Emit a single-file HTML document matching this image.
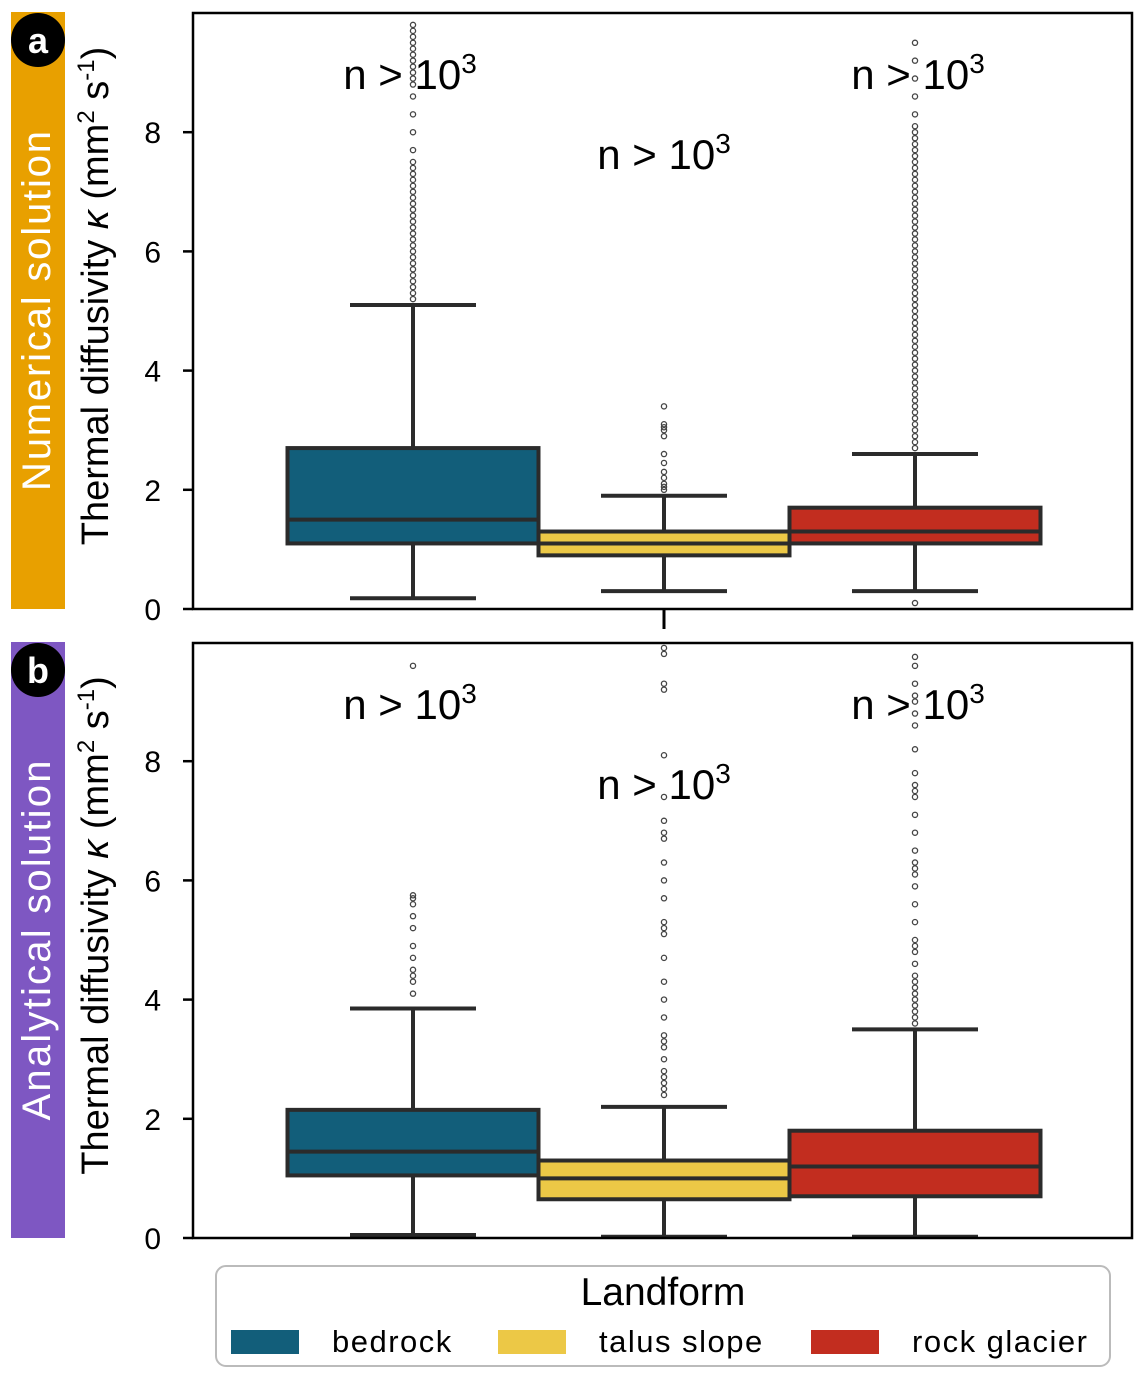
<!DOCTYPE html>
<html><head><meta charset="utf-8">
<style>
body{margin:0;background:#fff;width:1144px;height:1380px;overflow:hidden;font-family:"Liberation Sans","DejaVu Sans",sans-serif}
svg{display:block}
</style></head>
<body>
<svg id="chart" width="1144" height="1380" xmlns="http://www.w3.org/2000/svg"></svg>
<script>
const categories=["bedrock","talus slope","rock glacier"];
const colors=["#125e7a","#ecc846","#c22d1f"];
const yTicks=[0,2,4,6,8];
// panel a (numerical)
const aLow=[0.18,0.3,0.3];
const aQ1=[1.1,0.9,1.1];
const aMed=[1.5,1.1,1.3];
const aQ3=[2.7,1.3,1.7];
const aHigh=[5.1,1.9,2.6];
const aOut=[[5.2,5.3,5.4,5.5,5.6,5.7,5.8,5.9,6.0,6.1,6.2,6.3,6.4,6.5,6.6,6.7,6.8,6.9,7.0,7.1,7.2,7.3,7.4,7.5,7.7,8.0,8.3,8.6,8.8,8.9,9.0,9.1,9.2,9.3,9.4,9.5,9.6,9.7,9.8],
 [2.0,2.05,2.1,2.2,2.3,2.45,2.6,2.9,3.0,3.05,3.1,3.4],
 [0.1,2.7,2.8,2.9,3.0,3.1,3.2,3.3,3.4,3.5,3.6,3.7,3.8,3.9,4.0,4.1,4.2,4.3,4.4,4.5,4.6,4.7,4.8,4.9,5.0,5.1,5.2,5.3,5.4,5.5,5.6,5.7,5.8,5.9,6.0,6.1,6.2,6.3,6.4,6.5,6.6,6.7,6.8,6.9,7.0,7.1,7.2,7.3,7.4,7.5,7.6,7.7,7.8,7.9,8.0,8.1,8.3,8.6,8.9,9.2,9.5]];
// panel b (analytical)
const bLow=[0.05,0.02,0.02];
const bQ1=[1.05,0.65,0.7];
const bMed=[1.45,1.0,1.2];
const bQ3=[2.15,1.3,1.8];
const bHigh=[3.85,2.2,3.5];
const bOut=[[4.1,4.3,4.4,4.5,4.7,4.9,5.2,5.4,5.6,5.7,5.75,9.6],
 [2.4,2.5,2.6,2.7,2.8,3.0,3.2,3.3,3.4,3.7,4.0,4.3,4.7,5.1,5.2,5.3,5.7,6.0,6.3,6.7,6.8,7.0,7.4,8.1,9.2,9.3,9.8,9.9],
 [3.6,3.7,3.8,3.9,4.0,4.1,4.2,4.3,4.4,4.6,4.8,4.9,5.0,5.3,5.6,5.9,6.1,6.2,6.3,6.5,6.8,7.1,7.4,7.5,7.6,7.8,8.2,8.6,8.8,9.0,9.1,9.3,9.6,9.75]];

const NS="http://www.w3.org/2000/svg";
const svg=document.getElementById('chart');
function el(tag,attrs,parent,text){const e=document.createElementNS(NS,tag);for(const k in attrs)e.setAttribute(k,attrs[k]);if(text!==undefined)e.textContent=text;(parent||svg).appendChild(e);return e;}
const x0=193,x1=1132,bw=251;
function xc(i){return 413+i*251;}

function panel(key,top,bottom,low,q1,med,q3,high,out,label,bandColor,letter,showTick){
  const y=v=>bottom-v*59.6;
  const g=el('g',{});
  
  
  const band=el('rect',{x:11,y:top-1,width:54,height:bottom-top+1,fill:bandColor},g);
  
  const bt=el('text',{x:0,y:0,transform:`translate(50,${(top+bottom)/2}) rotate(-90)`,'text-anchor':'middle','font-size':40,fill:'#fff','textLength':360},g,label);
  
  const c=el('circle',{cx:38,cy:top+27,r:27,fill:'#000'},g);
  
  el('text',{x:38,y:top+40,'text-anchor':'middle','font-size':36,'font-weight':'bold',fill:'#fff'},g,letter);
  const yt=el('text',{x:0,y:0,transform:`translate(108,${(top+bottom)/2-15}) rotate(-90)`,'text-anchor':'middle','font-size':38,fill:'#000'},g);
  
  yt.innerHTML='Thermal diffusivity <tspan font-style="italic">κ</tspan> (mm<tspan dy="-14" font-size="24">2</tspan><tspan dy="14"> s</tspan><tspan dy="-14" font-size="24">-1</tspan><tspan dy="14">)</tspan>';
  for(let i=0;i<3;i++){
    const cx=xc(i),bg=el('g',{},g);
    
    
    el('line',{x1:cx,x2:cx,y1:y(low[i]),y2:y(q1[i]),stroke:'#2b2b2b','stroke-width':4},bg);
    el('line',{x1:cx,x2:cx,y1:y(q3[i]),y2:y(high[i]),stroke:'#2b2b2b','stroke-width':4},bg);
    el('line',{x1:cx-63,x2:cx+63,y1:y(low[i]),y2:y(low[i]),stroke:'#2b2b2b','stroke-width':4},bg);
    el('line',{x1:cx-63,x2:cx+63,y1:y(high[i]),y2:y(high[i]),stroke:'#2b2b2b','stroke-width':4},bg);
    el('rect',{x:cx-bw/2,y:y(q3[i]),width:bw,height:y(q1[i])-y(q3[i]),fill:colors[i],stroke:'#2b2b2b','stroke-width':4},bg);
    el('line',{x1:cx-bw/2,x2:cx+bw/2,y1:y(med[i]),y2:y(med[i]),stroke:'#2b2b2b','stroke-width':4},bg);
    out[i].forEach(v=>{el('circle',{cx:cx,cy:y(v),r:2.6,fill:'none',stroke:'#444','stroke-width':1.3},bg);});
  }
  const f=el('rect',{x:x0,y:top,width:x1-x0,height:bottom-top,fill:'none',stroke:'#000','stroke-width':2.5},g);
  
  yTicks.forEach(t=>{
    el('line',{x1:x0-10,x2:x0,y1:y(t),y2:y(t),stroke:'#000','stroke-width':2.5},g);
    const tl=el('text',{x:x0-32,y:y(t)+11,'text-anchor':'end','font-size':30},g,String(t));
    
  });
  if(showTick) el('line',{x1:664,x2:664,y1:bottom,y2:bottom+20,stroke:'#000','stroke-width':3},g);
  const nl=[[410,88],[664,168],[918,88]];
  nl.forEach((p,i)=>{
    const t=el('text',{x:p[0],y:top+p[1]-12,'text-anchor':'middle','font-size':42},g);
    
    t.innerHTML='n &gt; 10<tspan dy="-16" font-size="28">3</tspan>';
  });
}
panel('a',13,609,aLow,aQ1,aMed,aQ3,aHigh,aOut,'Numerical  solution','#e8a000','a',true);
panel('b',643,1238,bLow,bQ1,bMed,bQ3,bHigh,bOut,'Analytical solution','#7e57c2','b',false);

const lg=el('g',{});


el('rect',{x:216,y:1266,width:894,height:100,rx:10,fill:'#fff',stroke:'#bbb','stroke-width':2},lg);
const lt=el('text',{x:663,y:1305,'text-anchor':'middle','font-size':39},lg,'Landform');

const lx=[231,498,811];
categories.forEach((c,i)=>{
  const e=el('g',{},lg);
  
  
  el('rect',{x:lx[i],y:1330,width:68,height:24,fill:colors[i]},e);
  el('text',{x:lx[i]+101,y:1352,'font-size':31,'letter-spacing':'1.5'},e,c);
});
</script>
</body></html>
